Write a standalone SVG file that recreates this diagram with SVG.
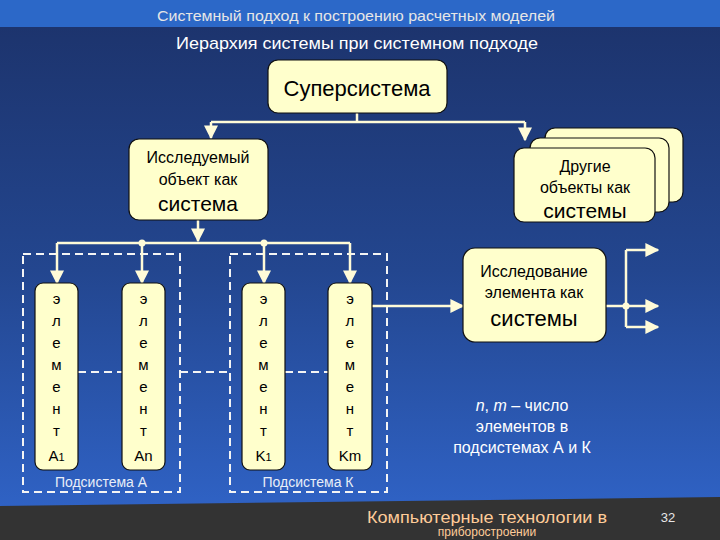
<svg xmlns="http://www.w3.org/2000/svg" width="720" height="540" viewBox="0 0 720 540">
<defs>
<linearGradient id="bg" x1="0" y1="0" x2="0" y2="1">
<stop offset="0" stop-color="#1c326a"/>
<stop offset="0.5" stop-color="#23468f"/>
<stop offset="1" stop-color="#3166cc"/>
</linearGradient>
<marker id="ahb" viewBox="0 0 10 10" refX="9" refY="5" markerWidth="14" markerHeight="14" orient="auto" markerUnits="userSpaceOnUse">
<path d="M0,0 L10,5 L0,10 z" fill="#fffbd8"/>
</marker>
</defs>
<style>
.box{fill:#ffffcc;stroke:#111;stroke-width:1.2}
.t{font-family:"Liberation Sans",Arial,sans-serif;fill:#000;text-anchor:middle}
.w{font-family:"Liberation Sans",Arial,sans-serif;fill:#ffffff;text-anchor:middle}
.ln{fill:none;stroke:#fffbd8;stroke-width:2.5}
.dash{fill:none;stroke:#f4f4f4;stroke-width:2;stroke-dasharray:8 5}
.dot{fill:#fffbd8}
.el{font-family:"Liberation Sans",Arial,sans-serif;fill:#000;text-anchor:middle;font-size:15px}
.ft{font-family:"Liberation Sans",Arial,sans-serif;fill:#ffcc99;text-anchor:middle}
</style>
<rect x="0" y="0" width="720" height="540" fill="url(#bg)"/>
<rect x="0" y="0" width="720" height="27" fill="#2c68c8"/>
<polygon points="0,506 720,497 720,540 0,540" fill="#333333"/>
<text class="w" x="356" y="21" font-size="15" textLength="398" lengthAdjust="spacingAndGlyphs" style="fill:#e6e6e6">Системный подход к построению расчетных моделей</text>
<text class="w" x="357" y="49" font-size="17" textLength="362" lengthAdjust="spacingAndGlyphs">Иерархия системы при системном подходе</text>

<g id="subsystems">
<rect class="dash" x="23" y="254" width="157" height="238"/>
<rect class="dash" x="230" y="254" width="157" height="238"/>
<line class="dash" x1="78" y1="372" x2="122" y2="372"/>
<line class="dash" x1="180" y1="372" x2="230" y2="372"/>
<line class="dash" x1="285" y1="372" x2="328" y2="372"/>
<text class="w" x="101" y="487" font-size="14" style="fill:#e8eef8">Подсистема А</text>
<text class="w" x="308" y="487" font-size="14" style="fill:#e8eef8">Подсистема К</text>
</g>

<g id="connectors">
<path class="ln" d="M357,113 V122"/>
<path class="ln" d="M211,122 H525"/>
<path class="ln" d="M211,122 V138" marker-end="url(#ahb)"/>
<path class="ln" d="M525,122 V140" marker-end="url(#ahb)"/>
<path class="ln" d="M198,220 V241" marker-end="url(#ahb)"/>
<path class="ln" d="M57,243 H350"/>
<path class="ln" d="M57,243 V283" marker-end="url(#ahb)"/>
<path class="ln" d="M142,243 V283" marker-end="url(#ahb)"/>
<path class="ln" d="M264,243 V283" marker-end="url(#ahb)"/>
<path class="ln" d="M350,243 V283" marker-end="url(#ahb)"/>
<circle class="dot" cx="142" cy="243" r="3.5"/>
<circle class="dot" cx="264" cy="243" r="3.5"/>
<path class="ln" d="M372,306 H463" marker-end="url(#ahb)"/>
<path class="ln" d="M606,306 H626"/>
<path class="ln" d="M626,250 V327"/>
<path class="ln" d="M626,250 H658" marker-end="url(#ahb)"/>
<path class="ln" d="M626,306 H658" marker-end="url(#ahb)"/>
<path class="ln" d="M626,327 H658" marker-end="url(#ahb)"/>
<circle class="dot" cx="626" cy="306" r="3.5"/>
</g>

<g id="supersystem">
<rect class="box" x="268" y="60" width="179" height="53" rx="10"/>
<text class="t" x="357" y="96" font-size="22">Суперсистема</text>
</g>

<g id="object">
<rect class="box" x="129" y="139" width="139" height="81" rx="10"/>
<text class="t" x="198" y="163" font-size="16">Исследуемый</text>
<text class="t" x="198" y="185" font-size="16">объект как</text>
<text class="t" x="198" y="211" font-size="21">система</text>
</g>

<g id="others">
<rect class="box" x="545" y="128" width="138" height="74" rx="10"/>
<rect class="box" x="530" y="138" width="139" height="74" rx="10"/>
<rect class="box" x="514" y="148" width="141" height="74" rx="10"/>
<text class="t" x="585" y="172" font-size="16">Другие</text>
<text class="t" x="585" y="193" font-size="16">объекты как</text>
<text class="t" x="585" y="218" font-size="21">системы</text>
</g>

<g id="research">
<rect class="box" x="463" y="248" width="143" height="94" rx="12"/>
<text class="t" x="534" y="277" font-size="16">Исследование</text>
<text class="t" x="534" y="298" font-size="16">элемента как</text>
<text class="t" x="534" y="326" font-size="22">системы</text>
</g>

<g id="elA1">
<rect class="box" x="35" y="283" width="43" height="187" rx="8"/>
<text class="el" x="56.5" y="304">э</text>
<text class="el" x="56.5" y="326">л</text>
<text class="el" x="56.5" y="348">е</text>
<text class="el" x="56.5" y="370">м</text>
<text class="el" x="56.5" y="392">е</text>
<text class="el" x="56.5" y="414">н</text>
<text class="el" x="56.5" y="436">т</text>
<text class="el" x="56.5" y="461" font-size="18">A<tspan font-size="11">1</tspan></text>
</g>
<g id="elAn">
<rect class="box" x="122" y="283" width="43" height="187" rx="8"/>
<text class="el" x="143.5" y="304">э</text>
<text class="el" x="143.5" y="326">л</text>
<text class="el" x="143.5" y="348">е</text>
<text class="el" x="143.5" y="370">м</text>
<text class="el" x="143.5" y="392">е</text>
<text class="el" x="143.5" y="414">н</text>
<text class="el" x="143.5" y="436">т</text>
<text class="el" x="143.5" y="461" font-size="18">An</text>
</g>
<g id="elK1">
<rect class="box" x="242" y="283" width="43" height="187" rx="8"/>
<text class="el" x="263.5" y="304">э</text>
<text class="el" x="263.5" y="326">л</text>
<text class="el" x="263.5" y="348">е</text>
<text class="el" x="263.5" y="370">м</text>
<text class="el" x="263.5" y="392">е</text>
<text class="el" x="263.5" y="414">н</text>
<text class="el" x="263.5" y="436">т</text>
<text class="el" x="263.5" y="461" font-size="18">K<tspan font-size="11">1</tspan></text>
</g>
<g id="elKm">
<rect class="box" x="328" y="283" width="44" height="187" rx="8"/>
<text class="el" x="350" y="304">э</text>
<text class="el" x="350" y="326">л</text>
<text class="el" x="350" y="348">е</text>
<text class="el" x="350" y="370">м</text>
<text class="el" x="350" y="392">е</text>
<text class="el" x="350" y="414">н</text>
<text class="el" x="350" y="436">т</text>
<text class="el" x="350" y="461" font-size="18">Km</text>
</g>

<g id="note">
<text class="w" x="522" y="411" font-size="16"><tspan font-style="italic">n</tspan>, <tspan font-style="italic">m</tspan> – число</text>
<text class="w" x="522" y="432" font-size="16">элементов в</text>
<text class="w" x="522" y="453" font-size="16">подсистемах А и К</text>
</g>

<g id="footer">
<text class="ft" x="487" y="523" font-size="16" textLength="240" lengthAdjust="spacingAndGlyphs">Компьютерные технологии в</text>
<text class="ft" x="487" y="536" font-size="12">приборостроении</text>
<text x="668" y="522" font-family="Liberation Sans, Arial, sans-serif" font-size="13" fill="#e6e6e6" text-anchor="middle">32</text>
</g>
</svg>
